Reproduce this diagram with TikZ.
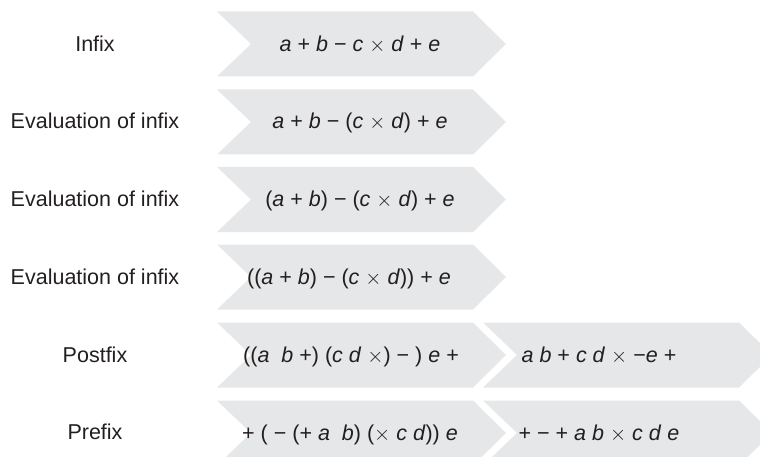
\documentclass[tikz,border=0pt]{standalone}
\usepackage{fontspec}
\setmainfont{Liberation Sans}
\definecolor{chevfill}{HTML}{E6E7E8}
\definecolor{ink}{HTML}{231F20}
\newcommand\chevshape[3]{%
  \fill[chevron] ({#1},{#3-32.5}) -- ({#2},{#3-32.5}) -- ({#2+33},{#3}) --
    ({#2},{#3+32.5}) -- ({#1},{#3+32.5}) -- ({#1+34},{#3}) -- cycle;}
\newcommand\vi[1]{\textit{#1}}
\newcommand\tms{\ensuremath{\times}}
\begin{document}
\begin{tikzpicture}[x=1pt,y=-1pt,
  chevron/.style={fill=chevfill,draw=none},
  lbl/.style={text=ink,font=\fontsize{21.5}{24}\selectfont,inner sep=0pt,anchor=base},
  expr/.style={text=ink,font=\fontsize{21.5}{24}\selectfont,inner sep=0pt,anchor=base}]
\useasboundingbox (0,0) rectangle (760,457);
\clip (0,0) rectangle (760,457);
% chevrons
\chevshape{217}{473}{44}
\chevshape{217}{473}{122}
\chevshape{217}{473}{199.5}
\chevshape{217}{473}{277}
\chevshape{217}{473}{355}
\chevshape{217}{473}{433}
\chevshape{483}{739}{355}
\chevshape{483}{739}{433}
% labels
\node[lbl] (l1) at (95,51.5) {Infix};
\node[lbl] (l2) at (95,129) {Evaluation of infix};
\node[lbl] (l3) at (95,206.5) {Evaluation of infix};
\node[lbl] (l4) at (95,284.5) {Evaluation of infix};
\node[lbl] (l5) at (95,362) {Postfix};
\node[lbl] (l6) at (95,439.5) {Prefix};
% expressions
\node[expr] (e1) at (360,52) {\vi{a} + \vi{b} − \vi{c} \tms{} \vi{d} + \vi{e}};
\node[expr] (e2) at (360,129) {\vi{a} + \vi{b} − (\vi{c} \tms{} \vi{d}) + \vi{e}};
\node[expr] (e3) at (360,206.5) {(\vi{a} + \vi{b}) − (\vi{c} \tms{} \vi{d}) + \vi{e}};
\node[expr] (e4) at (349,284.5) {((\vi{a} + \vi{b}) − (\vi{c} \tms{} \vi{d})) + \vi{e}};
\node[expr] (e5) at (351,362) {((\vi{a}\ \ \vi{b} +) (\vi{c} \vi{d} \tms) − ) \vi{e} +};
\node[expr] (e6) at (350,440) {+ ( − (+ \vi{a}\ \ \vi{b}) (\tms{} \vi{c} \vi{d})) \vi{e}};
\node[expr] (e7) at (599,362) {\vi{a} \vi{b} + \vi{c} \vi{d} \tms{} −\vi{e} +};
\node[expr] (e8) at (599,440) {+ − + \vi{a} \vi{b} \tms{} \vi{c} \vi{d} \vi{e}};
\end{tikzpicture}
\end{document}
